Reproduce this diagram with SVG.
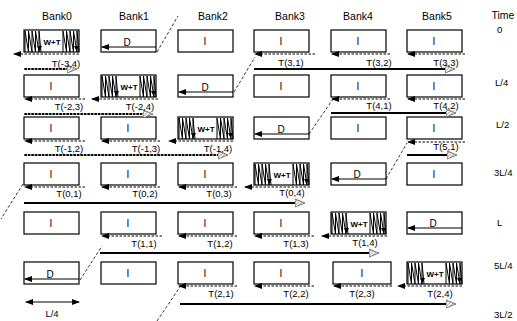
<svg xmlns="http://www.w3.org/2000/svg" xmlns:xlink="http://www.w3.org/1999/xlink" width="517" height="321" viewBox="0 0 517 321">
<style>
.box{fill:#fff;stroke:#000;stroke-width:1.2}
.zz{fill:none;stroke:#000;stroke-width:1}
.dash{fill:none;stroke:#000;stroke-width:1;stroke-dasharray:2.5,1.5}
.dot{fill:none;stroke:#000;stroke-width:1.8;stroke-dasharray:1.3,2.2;stroke-linecap:round}
.thick{fill:none;stroke:#000;stroke-width:2.2}
.dline{fill:none;stroke:#000;stroke-width:1}
.diag{fill:none;stroke:#000;stroke-width:0.8;stroke-dasharray:3,2}
text{font-family:"Liberation Sans",Arial,sans-serif;fill:#000}
.hd{font-size:10.5px;text-anchor:middle}
.tm{font-size:9.5px}
.lb{font-size:9.5px;text-anchor:middle}
.in{font-size:10px;text-anchor:middle}
.wt{font-size:8px;text-anchor:middle;font-weight:bold}
</style>
<defs>
<pattern id="hp" width="2.5" height="2.5" patternUnits="userSpaceOnUse" patternTransform="rotate(45)">
<rect width="2.5" height="2.5" fill="#fff"/>
<line x1="0" y1="0" x2="0" y2="2.5" stroke="#777" stroke-width="1.2"/>
</pattern>
<marker id="ah" markerUnits="userSpaceOnUse" markerWidth="9" markerHeight="7" refX="7" refY="3" orient="auto">
<path d="M0,0 L8,3 L0,6 z" fill="#000"/>
</marker>
<marker id="ah2" markerUnits="userSpaceOnUse" markerWidth="9" markerHeight="7" refX="7" refY="3" orient="auto-start-reverse">
<path d="M0,0 L8,3 L0,6 z" fill="#000"/>
</marker>
<marker id="hh" markerUnits="userSpaceOnUse" markerWidth="13" markerHeight="11" refX="3" refY="5" orient="auto">
<path d="M0,1 L10,5 L0,9 z" fill="url(#hp)" stroke="#555" stroke-width="0.8"/>
</marker>
<g id="wtd">
<polyline class="zz" points="1,22 1,1 4.5,22 4.5,1 8,22 8,1 11.5,22 11.5,1 15,22 15,1 17,22"/>
<polyline class="zz" points="39,22 39,1 42.5,22 42.5,1 46,22 46,1 49.5,22 49.5,1 53,22 53,1 55,22"/>
<path d="M13,16 L18,16 L15.5,21 z" fill="#000"/>
<path d="M50,16 L55,16 L52.5,21 z" fill="#000"/>
</g>
</defs>

<g id="headers">
<text class="hd" x="57" y="20">Bank0</text>
<text class="hd" x="134" y="20">Bank1</text>
<text class="hd" x="213" y="20">Bank2</text>
<text class="hd" x="290" y="20">Bank3</text>
<text class="hd" x="358" y="20">Bank4</text>
<text class="hd" x="437" y="20">Bank5</text>
<text class="hd" x="503" y="19">Time</text>
</g>
<g id="times">
<text class="tm" x="497" y="33">0</text>
<text class="tm" x="495" y="86">L/4</text>
<text class="tm" x="496" y="128">L/2</text>
<text class="tm" x="494" y="176">3L/4</text>
<text class="tm" x="497" y="226">L</text>
<text class="tm" x="494" y="269">5L/4</text>
<text class="tm" x="494" y="318">3L/2</text>
</g>

<!-- Row 0 -->
<g id="r0b0"><rect class="box" x="24" y="30" width="55" height="22"/><use xlink:href="#wtd" x="24" y="30"/><text class="wt" x="52" y="45">W+T</text></g>
<g id="r0b1"><rect class="box" x="101" y="30" width="55" height="22"/><text class="in" x="127" y="46">D</text></g>
<g id="r0b2"><rect class="box" x="178" y="30" width="55" height="22"/><text class="in" x="205" y="45">I</text></g>
<g id="r0b3"><rect class="box" x="254" y="30" width="55" height="22"/><text class="in" x="281" y="45">I</text></g>
<g id="r0b4"><rect class="box" x="331" y="30" width="55" height="22"/><text class="in" x="358" y="45">I</text></g>
<g id="r0b5"><rect class="box" x="407" y="30" width="55" height="22"/><text class="in" x="434" y="45">I</text></g>

<!-- Row 1 -->
<g id="r1b0"><rect class="box" x="24" y="75" width="55" height="22"/><text class="in" x="51" y="90">I</text></g>
<g id="r1b1"><rect class="box" x="101" y="75" width="55" height="22"/><use xlink:href="#wtd" x="101" y="75"/><text class="wt" x="129" y="90">W+T</text></g>
<g id="r1b2"><rect class="box" x="178" y="75" width="55" height="22"/><text class="in" x="205" y="91">D</text></g>
<g id="r1b3"><rect class="box" x="254" y="75" width="55" height="22"/><text class="in" x="281" y="90">I</text></g>
<g id="r1b4"><rect class="box" x="331" y="75" width="55" height="22"/><text class="in" x="358" y="90">I</text></g>
<g id="r1b5"><rect class="box" x="407" y="75" width="55" height="22"/><text class="in" x="434" y="90">I</text></g>

<!-- Row 2 -->
<g id="r2b0"><rect class="box" x="24" y="117" width="55" height="22"/><text class="in" x="51" y="132">I</text></g>
<g id="r2b1"><rect class="box" x="101" y="117" width="55" height="22"/><text class="in" x="128" y="132">I</text></g>
<g id="r2b2"><rect class="box" x="178" y="117" width="55" height="22"/><use xlink:href="#wtd" x="178" y="117"/><text class="wt" x="206" y="132">W+T</text></g>
<g id="r2b3"><rect class="box" x="254" y="117" width="55" height="22"/><text class="in" x="281" y="133">D</text></g>
<g id="r2b4"><rect class="box" x="331" y="117" width="55" height="22"/><text class="in" x="358" y="132">I</text></g>
<g id="r2b5"><rect class="box" x="407" y="117" width="55" height="22"/><text class="in" x="434" y="132">I</text></g>

<!-- Row 3 -->
<g id="r3b0"><rect class="box" x="24" y="163" width="55" height="22"/><text class="in" x="51" y="178">I</text></g>
<g id="r3b1"><rect class="box" x="101" y="163" width="55" height="22"/><text class="in" x="128" y="178">I</text></g>
<g id="r3b2"><rect class="box" x="178" y="163" width="55" height="22"/><text class="in" x="205" y="178">I</text></g>
<g id="r3b3"><rect class="box" x="254" y="163" width="55" height="22"/><use xlink:href="#wtd" x="254" y="163"/><text class="wt" x="282" y="178">W+T</text></g>
<g id="r3b4"><rect class="box" x="331" y="163" width="55" height="22"/><text class="in" x="357" y="178">D</text></g>
<g id="r3b5"><rect class="box" x="407" y="163" width="55" height="22"/><text class="in" x="434" y="178">I</text></g>

<!-- Row 4 -->
<g id="r4b0"><rect class="box" x="24" y="212" width="55" height="22"/><text class="in" x="51" y="227">I</text></g>
<g id="r4b1"><rect class="box" x="101" y="212" width="55" height="22"/><text class="in" x="128" y="227">I</text></g>
<g id="r4b2"><rect class="box" x="178" y="212" width="55" height="22"/><text class="in" x="205" y="227">I</text></g>
<g id="r4b3"><rect class="box" x="254" y="212" width="55" height="22"/><text class="in" x="281" y="227">I</text></g>
<g id="r4b4"><rect class="box" x="331" y="212" width="55" height="22"/><use xlink:href="#wtd" x="331" y="212"/><text class="wt" x="359" y="227">W+T</text></g>
<g id="r4b5"><rect class="box" x="407" y="212" width="55" height="22"/><text class="in" x="433" y="227">D</text></g>

<!-- Row 5 -->
<g id="r5b0"><rect class="box" x="24" y="262" width="55" height="22"/><text class="in" x="50" y="278">D</text></g>
<g id="r5b1"><rect class="box" x="101" y="262" width="55" height="22"/><text class="in" x="128" y="277">I</text></g>
<g id="r5b2"><rect class="box" x="178" y="262" width="55" height="22"/><text class="in" x="205" y="277">I</text></g>
<g id="r5b3"><rect class="box" x="254" y="262" width="55" height="22"/><text class="in" x="281" y="277">I</text></g>
<g id="r5b4"><rect class="box" x="333" y="262" width="58" height="22"/><text class="in" x="362" y="277">I</text></g>
<g id="r5b5"><rect class="box" x="407" y="262" width="55" height="22"/><use xlink:href="#wtd" x="407" y="262"/><text class="wt" x="435" y="277">W+T</text></g>

<g id="connectors">
<!-- D arrows inside boxes -->
<path class="dline" d="M156,47 L102,47" marker-end="url(#ah)"/>
<path class="dline" d="M233,92 L179,92" marker-end="url(#ah)"/>
<path class="dline" d="M309,134 L255,134" marker-end="url(#ah)"/>
<path class="dline" d="M386,179 L332,179" marker-end="url(#ah)"/>
<path class="dline" d="M462,228 L408,228" marker-end="url(#ah)"/>
<path class="dline" d="M79,279 L25,279" marker-end="url(#ah)"/>
<!-- dashed transfers -->
<path class="dash" d="M79,54 L14,54" marker-end="url(#ah)"/>
<path class="dash" d="M315,54 L255,54" marker-end="url(#ah)"/>
<path class="dash" d="M390,54 L332,54" marker-end="url(#ah)"/>
<path class="dash" d="M465,54 L408,54" marker-end="url(#ah)"/>
<path class="dash" d="M85,99 L25,99" marker-end="url(#ah)"/>
<path class="dash" d="M158,99 L92,99" marker-end="url(#ah)"/>
<path class="dash" d="M390,99 L332,99" marker-end="url(#ah)"/>
<path class="dash" d="M465,99 L408,99" marker-end="url(#ah)"/>
<path class="dash" d="M85,141 L25,141" marker-end="url(#ah)"/>
<path class="dash" d="M160,141 L102,141" marker-end="url(#ah)"/>
<path class="dash" d="M233,141 L169,141" marker-end="url(#ah)"/>
<path class="dash" d="M465,142 L408,142" marker-end="url(#ah)"/>
<path class="dash" d="M85,187 L25,187" marker-end="url(#ah)"/>
<path class="dash" d="M160,187 L102,187" marker-end="url(#ah)"/>
<path class="dash" d="M237,187 L179,187" marker-end="url(#ah)"/>
<path class="dash" d="M310,187 L245,187" marker-end="url(#ah)"/>
<path class="dash" d="M162,236 L102,236" marker-end="url(#ah)"/>
<path class="dash" d="M237,236 L179,236" marker-end="url(#ah)"/>
<path class="dash" d="M314,236 L255,236" marker-end="url(#ah)"/>
<path class="dash" d="M387,236 L322,236" marker-end="url(#ah)"/>
<path class="dash" d="M237,286 L179,286" marker-end="url(#ah)"/>
<path class="dash" d="M314,286 L255,286" marker-end="url(#ah)"/>
<path class="dash" d="M392,286 L334,286" marker-end="url(#ah)"/>
<path class="dash" d="M462,286 L398,286" marker-end="url(#ah)"/>
<!-- dotted long transfers -->
<path class="dot" d="M25,69 L70,69" marker-end="url(#hh)"/>
<path class="dot" d="M25,114 L146,114" marker-end="url(#hh)"/>
<path class="dot" d="M25,155 L221,155" marker-end="url(#hh)"/>
<!-- thick long transfers -->
<path class="thick" d="M254,69 L448,69" marker-end="url(#hh)"/>
<path class="thick" d="M331,113 L449,113" marker-end="url(#hh)"/>
<path class="thick" d="M407,155 L450,155" marker-end="url(#hh)"/>
<path class="thick" d="M24,203 L298,203" marker-end="url(#hh)"/>
<path class="thick" d="M100,253 L372,253" marker-end="url(#hh)"/>
<path class="thick" d="M180,304 L449,304" marker-end="url(#hh)"/>
<!-- diagonals -->
<path class="diag" d="M157,52 L178,16"/>
<path class="diag" d="M234,92 L255,57"/>
<path class="diag" d="M309,134 L333,99"/>
<path class="diag" d="M386,179 L407,143"/>
<path class="diag" d="M23,184 L1,219"/>
<path class="diag" d="M80,280 L102,246"/>
<path class="diag" d="M157,321 L180,287"/>
<!-- L/4 scale -->
<path class="dline" d="M26,302 L79,302" stroke-width="1.3" marker-start="url(#ah2)" marker-end="url(#ah2)"/>
</g>

<g id="labels">
<text class="lb" x="66" y="67">T(-3,4)</text>
<text class="lb" x="291" y="66">T(3,1)</text>
<text class="lb" x="379" y="66">T(3,2)</text>
<text class="lb" x="446" y="66">T(3,3)</text>
<text class="lb" x="69" y="110">T(-2,3)</text>
<text class="lb" x="140" y="110">T(-2,4)</text>
<text class="lb" x="379" y="109">T(4,1)</text>
<text class="lb" x="446" y="109">T(4,2)</text>
<text class="lb" x="69" y="152">T(-1,2)</text>
<text class="lb" x="146" y="152">T(-1,3)</text>
<text class="lb" x="218" y="152">T(-1,4)</text>
<text class="lb" x="446" y="150">T(5,1)</text>
<text class="lb" x="69" y="197">T(0,1)</text>
<text class="lb" x="145" y="197">T(0,2)</text>
<text class="lb" x="219" y="197">T(0,3)</text>
<text class="lb" x="292" y="196">T(0,4)</text>
<text class="lb" x="144" y="247">T(1,1)</text>
<text class="lb" x="220" y="247">T(1,2)</text>
<text class="lb" x="296" y="247">T(1,3)</text>
<text class="lb" x="365" y="246">T(1,4)</text>
<text class="lb" x="221" y="297">T(2,1)</text>
<text class="lb" x="296" y="297">T(2,2)</text>
<text class="lb" x="362" y="297">T(2,3)</text>
<text class="lb" x="440" y="297">T(2,4)</text>
<text class="lb" x="52" y="317">L/4</text>
</g>
</svg>
